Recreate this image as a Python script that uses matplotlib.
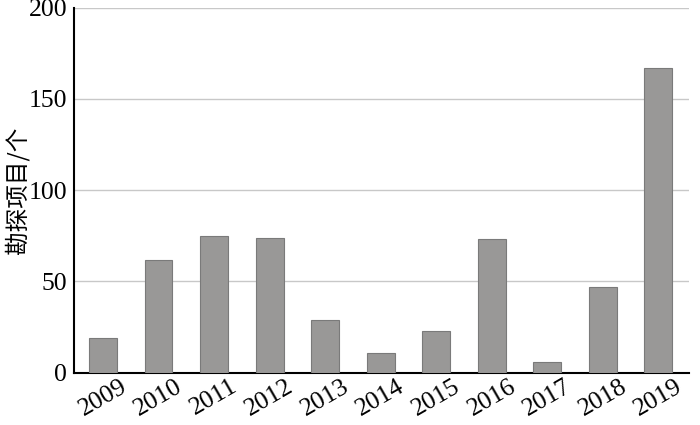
import matplotlib
matplotlib.use("Agg")
import matplotlib.pyplot as plt

years = ["2009", "2010", "2011", "2012", "2013", "2014",
         "2015", "2016", "2017", "2018", "2019"]
projects = [19, 62, 75, 74, 29, 11, 23, 73, 6, 47, 167]
yticks = [0, 50, 100, 150, 200]

plt.rcParams['font.family'] = ['Liberation Serif', 'Noto Sans CJK SC']

fig = plt.figure(figsize=(7, 4.25), dpi=100)
ax = fig.add_axes([0.106, 0.123, 0.878, 0.859])

x = range(len(years))
ax.bar(x, projects, width=0.5, color='#999897', edgecolor='#7a7a7a',
       linewidth=0.8, zorder=3)

ax.set_xlim(-0.52, 10.55)
ax.set_ylim(0, 200)
ax.set_yticks(yticks)
ax.set_yticklabels([str(v) for v in yticks], fontsize=18.5)
ax.set_xticks(list(x))
ax.set_xticklabels(years, fontsize=18.5, rotation=30, ha='center')
ax.tick_params(axis='both', length=0, pad=5)
ax.tick_params(axis='x', pad=2)

ax.yaxis.grid(True, color='#c8c8c8', linewidth=1.0, zorder=0)
ax.set_axisbelow(True)

for s in ['top', 'right']:
    ax.spines[s].set_visible(False)
ax.spines['left'].set_linewidth(1.5)
ax.spines['bottom'].set_linewidth(1.5)

ax.set_ylabel('勘探项目/个', fontsize=17,
              family=['Noto Sans CJK SC', 'DejaVu Sans'])
ax.yaxis.set_label_coords(-0.072, 0.5)

fig.savefig('out.png', dpi=100)
